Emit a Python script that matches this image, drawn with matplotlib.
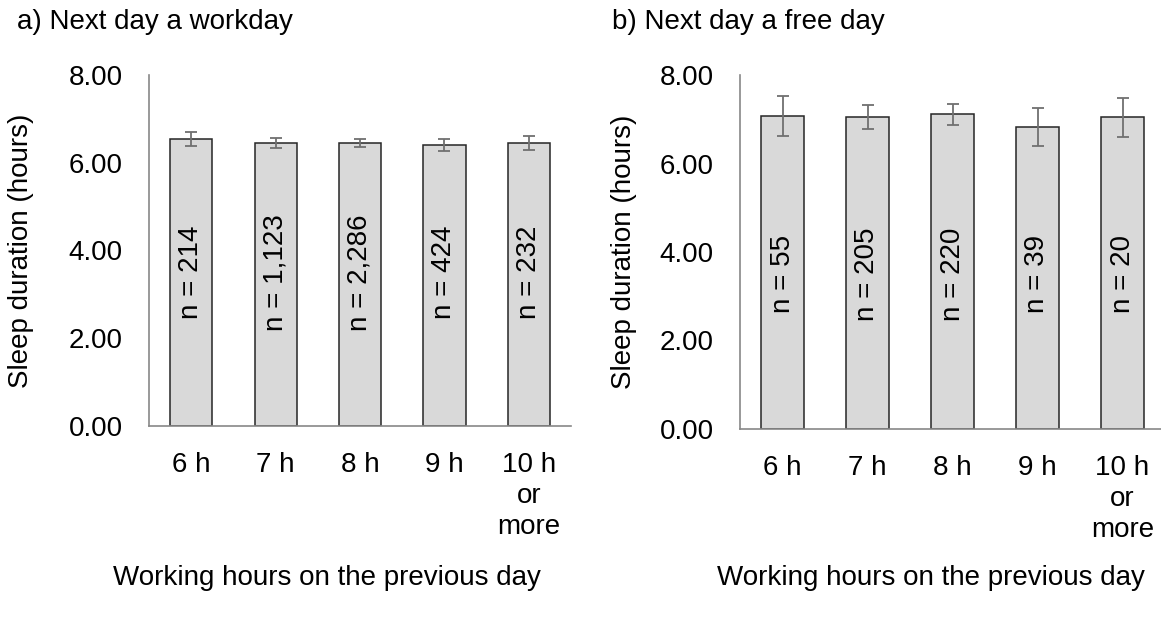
import matplotlib
matplotlib.use('agg')
from matplotlib import pyplot as plt
import numpy as np

# Data
categories = ['6 h', '7 h', '8 h', '9 h', '10 h\nor\nmore']

workday_mean = [6.54, 6.45, 6.45, 6.40, 6.46]
workday_err = [0.15, 0.11, 0.09, 0.13, 0.16]
workday_n = ['214', '1,123', '2,286', '424', '232']

freeday_mean = [7.07, 7.05, 7.11, 6.83, 7.04]
freeday_err = [0.45, 0.27, 0.24, 0.43, 0.44]
freeday_n = ['55', '205', '220', '39', '20']

yticks = [0, 2, 4, 6, 8]

plt.rcParams['font.family'] = ['Liberation Sans', 'DejaVu Sans']
FS = 20

fig = plt.figure(figsize=(11.61, 6.26), dpi=100)
W, H = 1161, 626


def panel(rect, means, errs, ns, ylab_x):
    ax = fig.add_axes(rect)
    x = np.arange(len(categories))
    ax.bar(x, means, width=0.5, color='#d9d9d9', edgecolor='#262626',
           linewidth=1.1, zorder=2)
    ax.errorbar(x, means, yerr=errs, fmt='none', ecolor='#707070',
                elinewidth=1.3, capsize=4, capthick=1.3, zorder=3)
    for xi, n in zip(x, ns):
        ax.text(xi, 3.5, f'n = {n}', rotation=90, ha='center', va='center',
                fontsize=FS, color='black', zorder=4)
    ax.set_xlim(-0.5, len(categories) - 0.5)
    ax.set_ylim(0, 8)
    ax.set_yticks(yticks)
    ax.set_yticklabels([f'{v:.2f}' for v in yticks])
    ax.set_xticks(x)
    ax.set_xticklabels(categories, linespacing=1.23, va='top')
    ax.tick_params(axis='both', length=0, labelsize=FS)
    ax.tick_params(axis='y', pad=19)
    ax.tick_params(axis='x', pad=19)
    for s in ('top', 'right'):
        ax.spines[s].set_visible(False)
    for s in ('left', 'bottom'):
        ax.spines[s].set_color('#888888')
        ax.spines[s].set_linewidth(1.2)
    ax.set_ylabel('Sleep duration (hours)', fontsize=FS)
    # label x is its right edge (rotation_mode='anchor')
    ax.yaxis.set_label_coords(ylab_x, 0.5)
    return ax


ax1 = panel([149 / W, 1 - 426 / H, 422 / W, 351 / H],
            workday_mean, workday_err, workday_n, (34 - 149) / 422)
ax2 = panel([740 / W, 1 - 429 / H, 425 / W, 354 / H],
            freeday_mean, freeday_err, freeday_n, (637 - 740) / 425)

fig.text(17 / W, 1 - 22 / H, 'a) Next day a workday', fontsize=FS,
         ha='left', va='center')
fig.text(612 / W, 1 - 22 / H, 'b) Next day a free day', fontsize=FS,
         ha='left', va='center')
fig.text(327 / W, 1 - 578 / H, 'Working hours on the previous day',
         fontsize=FS, ha='center', va='center')
fig.text(931 / W, 1 - 578 / H, 'Working hours on the previous day',
         fontsize=FS, ha='center', va='center')

fig.savefig('out.png', dpi=100)
